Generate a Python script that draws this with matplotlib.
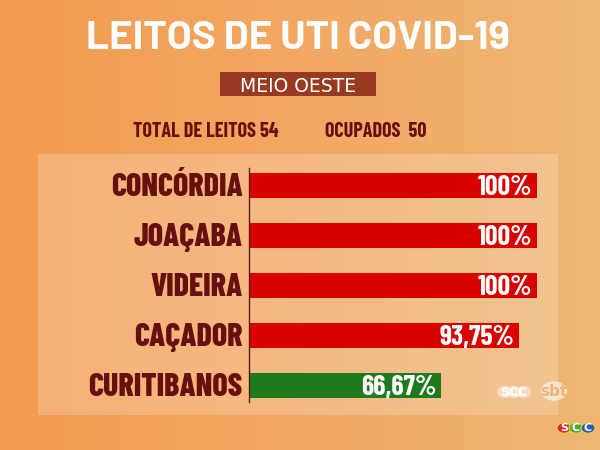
import numpy as np
import matplotlib
matplotlib.use('Agg')
import matplotlib.pyplot as plt
from matplotlib.patches import Rectangle, Circle
from matplotlib.colors import LinearSegmentedColormap

# dados
cidades = ['CONCÓRDIA', 'JOAÇABA', 'VIDEIRA', 'CAÇADOR', 'CURITIBANOS']
ocupacao = [100, 100, 100, 93.75, 66.67]
rotulos = ['100%', '100%', '100%', '93,75%', '66,67%']
cores = ['#d90000', '#d90000', '#d90000', '#d90000', '#1d7a1d']
titulo = 'LEITOS DE UTI COVID-19'
regiao = 'MEIO OESTE'
total_leitos = 54
ocupados = 50

plt.rcParams['font.family'] = ['Barlow Condensed', 'Liberation Sans', 'DejaVu Sans']
MARROM = '#680f0f'

W, H = 600, 450


def fx(px):
    return px / W


def fy(py):
    return 1 - py / H


fig = plt.figure(figsize=(6, 4.5), dpi=100)

# fundo em degradê
bg = fig.add_axes([0, 0, 1, 1])
bg.set_zorder(-10)
cmap = LinearSegmentedColormap.from_list('fundo', ['#f39a50', '#f2a862', '#eeb676'])
grad = np.tile(np.linspace(0, 1, 256), (10, 1))
bg.imshow(grad, cmap=cmap, aspect='auto', extent=[0, 1, 0, 1])
bg.set_xlim(0, 1)
bg.set_ylim(0, 1)
bg.axis('off')

# painel claro
fig.patches.append(Rectangle((fx(38), fy(415)), fx(558 - 38), (415 - 154) / H,
                             transform=fig.transFigure, facecolor='white',
                             alpha=0.21, edgecolor='none', zorder=1))

# titulo
fig.text(fx(298), fy(49), titulo, ha='center', va='baseline', color='white',
         fontsize=29, fontweight='bold', family=['Barlow', 'Barlow Condensed', 'DejaVu Sans'])

# caixa da regiao
fig.patches.append(Rectangle((fx(220), fy(96)), fx(376 - 220), (96 - 72) / H,
                             transform=fig.transFigure, facecolor='#983a22',
                             edgecolor='none', zorder=2))
fig.text(fx(298), fy(91.5), regiao, ha='center', va='baseline', color='white',
         fontsize=13.5, family=['DejaVu Sans'], zorder=3)

fig.text(fx(133), fy(137), 'TOTAL DE LEITOS {}'.format(total_leitos), ha='left',
         va='baseline', color=MARROM, fontsize=14.5, fontweight='bold')
fig.text(fx(325), fy(137), 'OCUPADOS  {}'.format(ocupados), ha='left',
         va='baseline', color=MARROM, fontsize=14.5, fontweight='bold')

# barras
ax = fig.add_axes([fx(249), fy(402), fx(288), (402 - 168) / H])
ax.set_zorder(5)
ax.set_facecolor('none')
y = np.arange(len(cidades))
ax.barh(y, ocupacao, height=0.5, color=cores)
ax.set_xlim(0, 100)
ax.set_ylim(4.34, -0.34)
ax.set_yticks(y)
ax.set_yticklabels(cidades, fontsize=23, fontweight=800, color=MARROM)
ax.tick_params(axis='y', length=0, pad=4.5)
ax.set_xticks([])
for s in ['top', 'right', 'bottom']:
    ax.spines[s].set_visible(False)
ax.spines['left'].set_color('#5a1a10')
ax.spines['left'].set_linewidth(1)

for i in range(len(cidades)):
    ax.annotate(rotulos[i], (ocupacao[i], i), xytext=(-3.5, 0), textcoords='offset points',
                ha='right', va='center_baseline', color='white', fontsize=20,
                fontweight='bold')

# logos
fig.patches.append(Circle((fx(554), fy(391)), 13 / W, transform=fig.transFigure,
                          facecolor='white', alpha=0.6, edgecolor='none', zorder=2))
fig.text(fx(554), fy(391), 'sbt', ha='center', va='center', color='#f0b27a',
         fontsize=11, fontweight='bold', family=['DejaVu Sans'], zorder=3)
for k, cx in enumerate([505, 514, 523]):
    fig.patches.append(Circle((fx(cx), fy(392)), 8 / W, transform=fig.transFigure,
                              facecolor='white', alpha=0.45, edgecolor='none', zorder=2))
fig.text(fx(514), fy(392), 'scc', ha='center', va='center', color='white', alpha=0.9,
         fontsize=11, fontweight='bold', family=['DejaVu Sans'], zorder=3)

for letra, cx, cor in [('S', 564, '#d62a2e'), ('C', 576, '#4fa83a'), ('C', 588, '#2461b0')]:
    fig.patches.append(Circle((fx(cx), fy(428)), 7 / W, transform=fig.transFigure,
                              facecolor=cor, edgecolor='#f5d040', linewidth=0.8, zorder=2))
    fig.text(fx(cx), fy(428), letra, ha='center', va='center', color='white',
             fontsize=8, fontweight='bold', family=['DejaVu Sans'], zorder=3)

fig.savefig('out.png', dpi=100)
